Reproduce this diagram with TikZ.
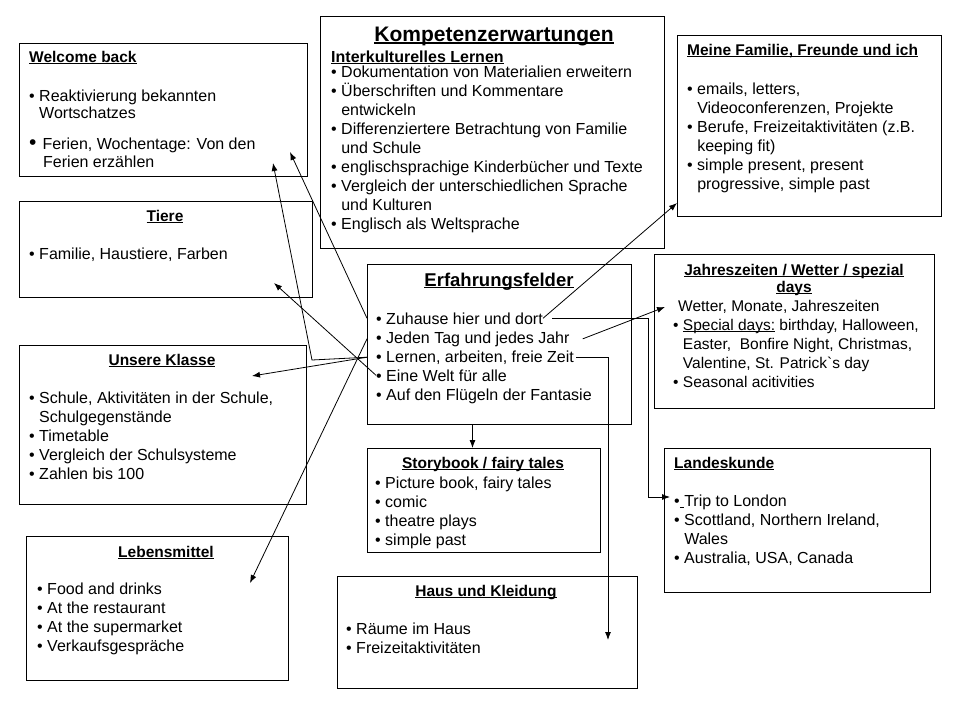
\documentclass[tikz,border=0pt]{standalone}
\usepackage{fontspec}
\setmainfont{Liberation Sans}
\usetikzlibrary{arrows.meta}

\newcommand{\uln}[1]{\setbox0\hbox{#1}\rlap{\rule[-0.12em]{\wd0}{0.07em}}\box0\relax}
\newcommand{\cont}{\phantom{•\ }}
\newcommand{\bigbul}{{\fontsize{21}{19}\selectfont•}}

% anchor=base gives the baseline of the last line
\tikzset{
  box/.style={draw, line width=1pt, anchor=north west, inner sep=0pt},
  head/.style={font=\bfseries\fontsize{15.5}{18}\selectfont, inner sep=0pt, anchor=base},
  body/.style={font=\fontsize{16}{19}\selectfont, align=left, inner sep=0pt, anchor=base west},
  conn/.style={line width=0.8pt, -{Latex[length=8pt,width=6pt]}}
}

\begin{document}
\begin{tikzpicture}[x=1pt,y=-1pt]
        \useasboundingbox (0,0) rectangle (960,720);
        % Kaesten
        \node[box, minimum width=288pt, minimum height=133pt] (welcome) at (19,43) {};
        \node[box, minimum width=293pt, minimum height=96pt] (tiere) at (19,201) {};
        \node[box, minimum width=344pt, minimum height=232pt] (kompetenz) at (320,16) {};
        \node[box, minimum width=264pt, minimum height=181pt] (familie) at (677,35) {};
        \node[box, minimum width=280pt, minimum height=154pt] (jahr) at (654,254) {};
        \node[box, minimum width=264pt, minimum height=160pt] (erfahrung) at (367,264) {};
        \node[box, minimum width=287pt, minimum height=159pt] (klasse) at (19,345) {};
        \node[box, minimum width=233pt, minimum height=104pt] (story) at (367,448) {};
        \node[box, minimum width=266pt, minimum height=144pt] (landes) at (664,448) {};
        \node[box, minimum width=262pt, minimum height=144pt] (leben) at (26,536) {};
        \node[box, minimum width=300pt, minimum height=112pt] (haus) at (337,576) {};

        % Welcome back
        \node[head, anchor=base west] (welcomeHd) at (29,62) {\uln{Welcome back}};
        \node[body] (welcomeTxt) at (29,167) {• Reaktivierung bekannten\\[-2pt]
            \cont Wortschatzes\\[12pt]
            \bigbul\hspace{6pt}Ferien, Wochentage: Von den\\[-1pt]
            \hspace{14pt}Ferien erzählen};

        % Tiere
        \node[head] (tiereHd) at (165,221) {\uln{Tiere}};
        \node[body] (tiereTxt) at (29,259) {• Familie, Haustiere, Farben};

        % Kompetenzerwartungen
        \node[head, font=\bfseries\fontsize{21}{24}\selectfont] (kompetenzHd) at (494,41) {\uln{Kompetenzerwartungen}};
        \node[body] (kompetenzTxt) at (331,229) {{\bfseries\uln{Interkulturelles Lernen}}\\[-4pt]
            • Dokumentation von Materialien erweitern\\
            • Überschriften und Kommentare\\
            \cont entwickeln\\
            • Differenziertere Betrachtung von Familie\\
            \cont und Schule\\
            • englischsprachige Kinderbücher und Texte\\
            • Vergleich der unterschiedlichen Sprache\\
            \cont und Kulturen\\
            • Englisch als Weltsprache};

        % Meine Familie
        \node[head, anchor=base west] (familieHd) at (687,55) {\uln{Meine Familie, Freunde und ich}};
        \node[body] (familieTxt) at (687,189) {• emails, letters,\\
            \cont Videoconferenzen, Projekte\\
            • Berufe, Freizeitaktivitäten (z.B.\\
            \cont keeping fit)\\
            • simple present, present\\
            \cont progressive, simple past};

        % Jahreszeiten
        \node[head, align=center] (jahrHd) at (794,292) {\uln{Jahreszeiten / Wetter / spezial}\\[-1pt]\uln{days}};
        \node[body, font=\fontsize{15.5}{19}\selectfont] (jahrTxt) at (673,387) {\hspace{5pt}Wetter, Monate, Jahreszeiten\\
            • \uln{Special days:} birthday, Halloween,\\
            \cont Easter,\ \ Bonfire Night, Christmas,\\
            \cont Valentine, St. Patrick\textasciigrave s day\\
            • Seasonal acitivities};

        % Erfahrungsfelder
        \node[head, font=\bfseries\fontsize{18.5}{22}\selectfont] (erfahrungHd) at (499,286) {\uln{Erfahrungsfelder}};
        \node[body] (zuhause) at (376,324) {• Zuhause hier und dort};
        \node[body] (jeden) at (376,343) {• Jeden Tag und jedes Jahr};
        \node[body] (lernen) at (376,362) {• Lernen, arbeiten, freie Zeit};
        \node[body] (welt) at (376,381) {• Eine Welt für alle};
        \node[body] (fluegel) at (376,400) {• Auf den Flügeln der Fantasie};

        % Unsere Klasse
        \node[head] (klasseHd) at (162,365) {\uln{Unsere Klasse}};
        \node[body] (klasseTxt) at (29,479) {• Schule, Aktivitäten in der Schule,\\
            \cont Schulgegenstände\\
            • Timetable\\
            • Vergleich der Schulsysteme\\
            • Zahlen bis 100};

        % Storybook
        \node[head] (storyHd) at (483,468) {\uln{Storybook / fairy tales}};
        \node[body] (storyTxt) at (375,545) {• Picture book, fairy tales\\
            • comic\\
            • theatre plays\\
            • simple past};

        % Landeskunde
        \node[head, anchor=base west] (landesHd) at (674,468) {\uln{Landeskunde}};
        \node[body] (landesTxt) at (674,563) {•\uln{\ }Trip to London\\
            • Scottland, Northern Ireland,\\
            \cont Wales\\
            • Australia, USA, Canada};

        % Lebensmittel
        \node[head] (lebenHd) at (166,557) {\uln{Lebensmittel}};
        \node[body] (lebenTxt) at (37,651) {• Food and drinks\\
            • At the restaurant\\
            • At the supermarket\\
            • Verkaufsgespräche};

        % Haus und Kleidung
        \node[head] (hausHd) at (486,596) {\uln{Haus und Kleidung}};
        \node[body] (hausTxt) at (346,653) {• Räume im Haus\\
            • Freizeitaktivitäten};

        % Pfeile
        \coordinate (welcomeA) at (290,152);
        \coordinate (welcomeB) at (273,163);
        \coordinate (knick) at (312,360);
        \coordinate (tiereTip) at (274,283);
        \coordinate (klasseTip) at (252,376);
        \coordinate (lebenTip) at (250,583);
        \coordinate (familieTip) at (677,203);
        \coordinate (jahrTip) at (665,307);
        \coordinate (landesKnick) at (648,497);
        \coordinate (landesTip) at (670,497);
        \coordinate (hausTip) at (608,640);
        \draw[conn] (zuhause.west -| erfahrung.west) -- (welcomeA);
        \draw[conn] (lernen.west -| erfahrung.west) -- (knick) -- (welcomeB);
        \draw[conn] (lernen.west -| erfahrung.west) -- (klasseTip);
        \draw[conn] (welt.west) -- (tiereTip);
        \draw[conn] (jeden.west -| erfahrung.west) -- (lebenTip);
        \draw[conn] (zuhause.east) -- (familieTip);
        \draw[conn] ([xshift=13pt]jeden.east) -- (jahrTip);
        \draw[line width=0.8pt] ([xshift=9pt]zuhause.east) -| (landesKnick);
        \draw[conn] (landesKnick) -- (landesTip);
        \draw[conn] ([xshift=2pt]lernen.east) -| (hausTip);
        \draw[conn] ([xshift=-27pt]erfahrung.south) -- ([xshift=-27pt]erfahrung.south |- story.north);
    \end{tikzpicture}
\end{document}
